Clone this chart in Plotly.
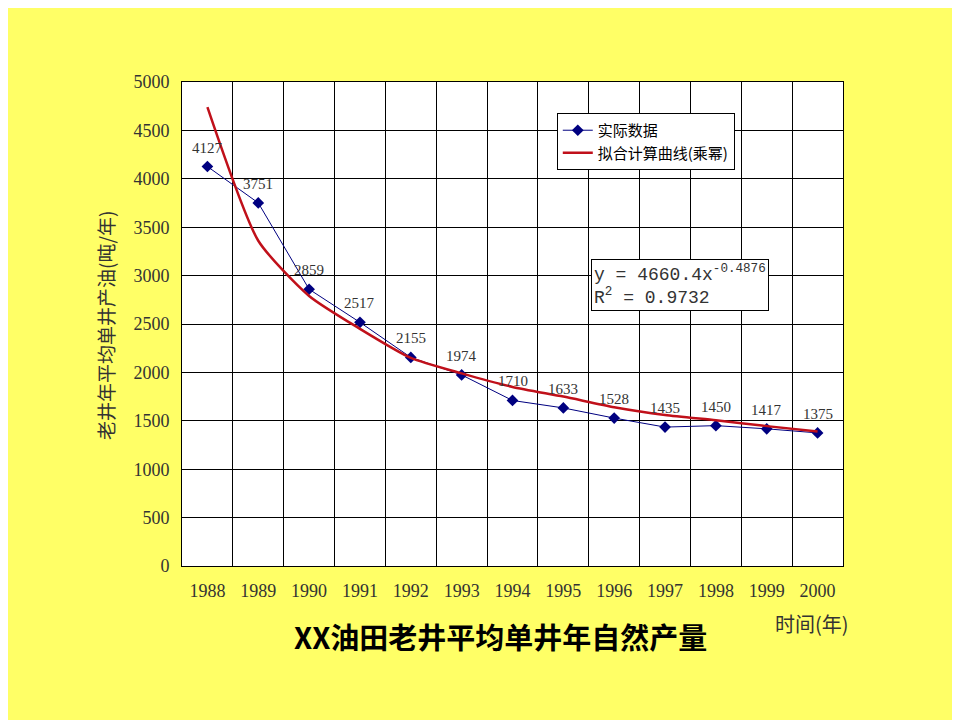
import plotly.graph_objects as go

years = ["1988", "1989", "1990", "1991", "1992", "1993", "1994",
         "1995", "1996", "1997", "1998", "1999", "2000"]
actual = [4127, 3751, 2859, 2517, 2155, 1974, 1710, 1633, 1528, 1435, 1450, 1417, 1375]
# fitted power curve, values at each year
fitted = [4740, 3360, 2790, 2450, 2150, 1990, 1850, 1750, 1640, 1560, 1505, 1445, 1390]
y_ticks = [0, 500, 1000, 1500, 2000, 2500, 3000, 3500, 4000, 4500, 5000]

bg = "#FFFF66"
serif = "Liberation Serif"
cjk = "Noto Sans CJK SC"

fig = go.Figure()

fig.add_trace(go.Scatter(
    x=years, y=actual, mode="lines+markers", name="实际数据",
    line=dict(color="#000080", width=1),
    marker=dict(symbol="diamond", size=9, color="#000080"),
))
fig.add_trace(go.Scatter(
    x=years, y=fitted, mode="lines", name="拟合计算曲线(乘幂)",
    line=dict(color="#C0101A", width=2.5, shape="spline", smoothing=0.6),
))

# point value labels (x given as category index)
for i, v in enumerate(actual):
    fig.add_annotation(x=i, y=v, text=str(v), showarrow=False, yshift=19,
                       font=dict(family=serif, size=15, color="#333333"))

# trendline equation box
fig.add_annotation(
    xref="paper", yref="paper", x=0.753, y=0.581,
    xanchor="center", yanchor="middle", align="left", showarrow=False,
    text="y = 4660.4x<sup>-0.4876</sup><br>R<sup>2</sup> = 0.9732",
    font=dict(family="Liberation Mono", size=18, color="#333333"),
    bgcolor="white", bordercolor="black", borderwidth=1, borderpad=2,
)

# axis titles and chart title
fig.add_annotation(xref="paper", yref="paper", x=-0.115, y=0.498,
                   xanchor="center", yanchor="middle",
                   text="老井年平均单井产油(吨/年)", textangle=-90, showarrow=False,
                   font=dict(family=cjk, size=19, color="#333333"))
fig.add_annotation(xref="paper", yref="paper", x=0.953, y=-0.118,
                   xanchor="center", yanchor="middle",
                   text="时间(年)", showarrow=False,
                   font=dict(family=cjk, size=20, color="#333333"))
fig.add_annotation(xref="paper", yref="paper", x=0.482, y=-0.145,
                   xanchor="center", yanchor="middle",
                   text="<b>XX油田老井平均单井年自然产量</b>", showarrow=False,
                   font=dict(family=cjk, size=29, color="black"))

fig.update_layout(
    width=960, height=720,
    paper_bgcolor=bg, plot_bgcolor="white",
    margin=dict(l=174, r=125, t=74, b=162),
    showlegend=True,
    legend=dict(
        x=0.567, y=0.936, xanchor="left", yanchor="top",
        bgcolor="white", bordercolor="black", borderwidth=1,
        font=dict(family=cjk, size=15, color="black"),
        tracegroupgap=0, itemwidth=30,
    ),
    xaxis=dict(
        type="category", range=[-0.5, 12.5], tickson="boundaries",
        showgrid=True, gridcolor="black", gridwidth=1,
        showline=True, linecolor="black", mirror=True, ticks="",
        tickfont=dict(family=serif, size=18, color="#333333"),
        ticklabelstandoff=8,
    ),
    yaxis=dict(
        range=[0, 5000], tickvals=y_ticks,
        showgrid=True, gridcolor="black", gridwidth=1, zeroline=False,
        showline=True, linecolor="black", mirror=True, ticks="",
        tickfont=dict(family=serif, size=18, color="#333333"),
        ticklabelstandoff=8,
    ),
)

fig.write_html("out.html")
